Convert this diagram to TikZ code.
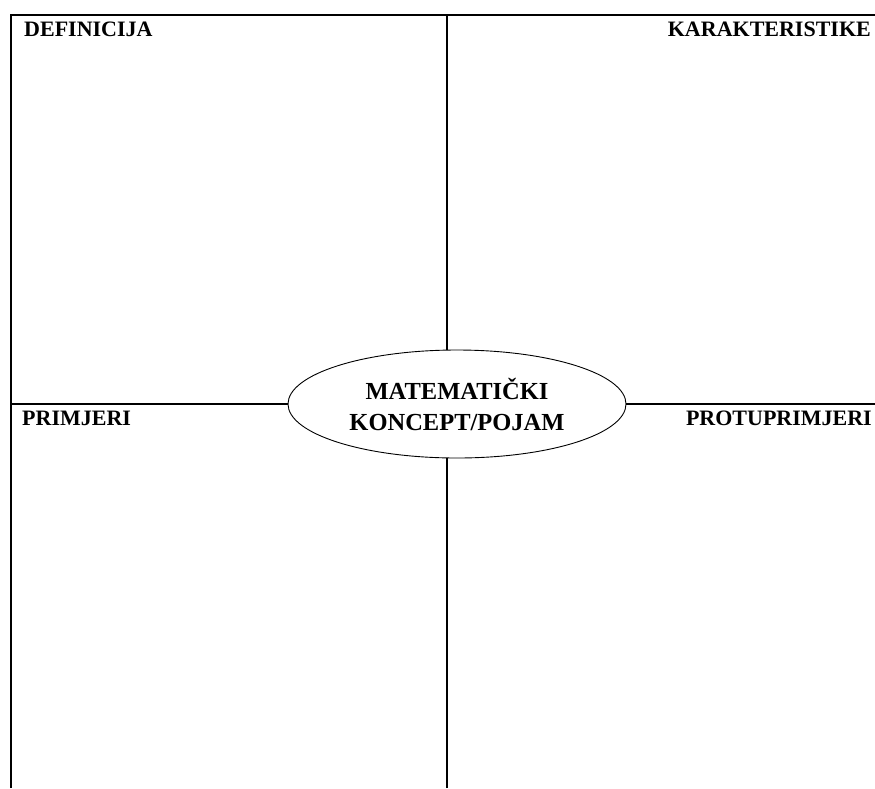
\documentclass[tikz,border=0pt]{standalone}
\usepackage{fontspec}
\setmainfont{Liberation Serif}
\usetikzlibrary{shapes.geometric}
\tikzset{
  rule/.style={line width=1.6pt, black},
  label/.style={font=\bfseries\fontsize{22}{26}\selectfont, inner sep=0pt},
  concept/.style={ellipse, draw, line width=0.9pt, minimum width=338pt, minimum height=108pt, inner sep=0pt, align=center, font=\bfseries\fontsize{24.5}{31}\selectfont}
}
\begin{document}
\begin{tikzpicture}[x=1pt,y=-1pt]
\useasboundingbox (0,0) rectangle (875,788);
\coordinate (bl) at (11,788);
\coordinate (tl) at (11,15);
\coordinate (tr) at (875,15);
\coordinate (tc) at (447,15);
\coordinate (bc) at (447,788);
\coordinate (ml) at (11,404);
\coordinate (mr) at (875,404);
\node[concept] (concept) at (457,404) {MATEMATIČKI\\KONCEPT/POJAM};
\draw[rule] (bl) -- (tl) -- (tr);
\draw[rule] (tc) -- (tc |- concept.north);
\draw[rule] (bc) -- (bc |- concept.south);
\draw[rule] (ml) -- (concept.west);
\draw[rule] (concept.east) -- (mr);
\node[label, anchor=base west] (def) at (24,36) {DEFINICIJA};
\node[label, anchor=base east] (kar) at (871,36) {KARAKTERISTIKE};
\node[label, anchor=base west] (pri) at (22,425) {PRIMJERI};
\node[label, anchor=base east] (pro) at (872,425) {PROTUPRIMJERI};
\end{tikzpicture}
\end{document}
